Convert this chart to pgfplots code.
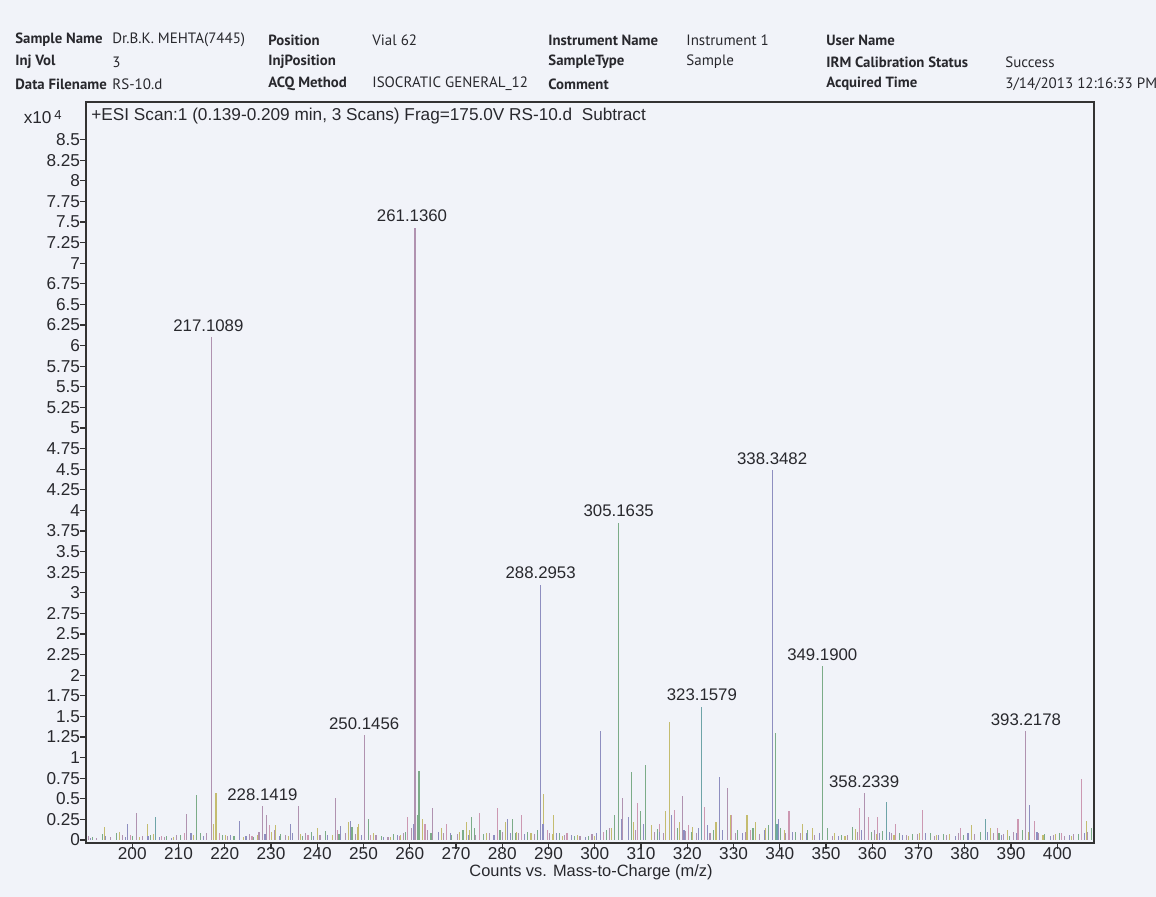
\documentclass[border=0pt]{standalone}
\usepackage{fontspec}
\setmainfont{Liberation Sans}
\newfontfamily\hdr{PT Sans}
\usepackage{pgfplots}
\pgfplotsset{compat=1.18}
\definecolor{bg}{RGB}{241,243,249}
\definecolor{cmauve}{RGB}{176,146,176}
\definecolor{cgreen}{RGB}{124,172,136}
\definecolor{cblue}{RGB}{142,142,192}
\definecolor{colive}{RGB}{196,188,112}
\definecolor{cpink}{RGB}{204,152,178}
\definecolor{cteal}{RGB}{110,164,168}
\definecolor{txt}{RGB}{40,40,45}
\newcommand{\hb}[1]{{\hdr\bfseries\fontsize{7.4}{8}\selectfont #1}}
\newcommand{\hn}[1]{{\hdr\fontsize{7.5}{8}\selectfont #1}}
\begin{document}
\begin{tikzpicture}
\useasboundingbox (0,0) rectangle (578pt,448.5pt);
\fill[bg] (0,0) rectangle (578pt,448.5pt);
\begin{scope}[shift={(0pt,448.5pt)},x=0.5pt,y=-0.5pt,every node/.style={anchor=west,inner sep=0pt,text=txt}]
\node at (15,40) {\hb{Sample Name}};
\node at (112,40) {\hn{Dr.B.K. MEHTA(7445)}};
\node at (268,40) {\hb{Position}};
\node at (372,40) {\hn{Vial 62}};
\node at (548,40) {\hb{Instrument Name}};
\node at (686,40) {\hn{Instrument 1}};
\node at (826,40) {\hb{User Name}};
\node at (15,62) {\hb{Inj Vol}};
\node at (112,62) {\hn{3}};
\node at (268,62) {\hb{InjPosition}};
\node at (548,62) {\hb{SampleType}};
\node at (686,62) {\hn{Sample}};
\node at (826,62) {\hb{IRM Calibration Status}};
\node at (1005,62) {\hn{Success}};
\node at (15,84) {\hb{Data Filename}};
\node at (112,84) {\hn{RS-10.d}};
\node at (268,84) {\hb{ACQ Method}};
\node at (372,84) {\hn{ISOCRATIC GENERAL\_12}};
\node at (548,84) {\hb{Comment}};
\node at (826,84) {\hb{Acquired Time}};
\node at (1005,84) {\hn{3/14/2013 12:16:33 PM}};
\node[anchor=east,font=\fontsize{8.6}{10}\selectfont] at (62,117) {x10\,\raisebox{0.45ex}{\fontsize{6.5}{7}\selectfont 4}};
\node[anchor=center,font=\fontsize{8.2}{9}\selectfont] at (591,872) {Counts vs. Mass-to-Charge (m/z)};
\end{scope}
\begin{axis}[at={(43pt,26.85pt)}, anchor=south west, scale only axis,
  width=504.15pt, height=370.4pt,
  xmin=190, xmax=408, ymin=-0.04, ymax=8.95,
  axis background/.style={fill=bg},
  axis line style={draw=black!80, line width=1pt},
  tick align=outside, major tick length=3pt,
  tick style={draw=black!80, line width=0.6pt},
  xtick pos=left, ytick pos=left,
  xtick={200,210,220,230,240,250,260,270,280,290,300,310,320,330,340,350,360,370,380,390,400},
  ytick={0,0.25,0.5,0.75,1,1.25,1.5,1.75,2,2.25,2.5,2.75,3,3.25,3.5,3.75,4,4.25,4.5,4.75,5,5.25,5.5,5.75,6,6.25,6.5,6.75,7,7.25,7.5,7.75,8,8.25,8.5},
  ticklabel style={font=\fontsize{8.6}{10}\selectfont, text=txt, inner sep=0pt},
  xticklabel style={yshift=1.0pt, /pgf/number format/.cd, assume math mode=true, 1000 sep={}},
  yticklabel style={xshift=0.2pt, /pgf/number format/.cd, fixed, precision=2, assume math mode=true},
  scaled y ticks=false,
  clip=true,
  every axis plot/.append style={ycomb, no markers, line width=0.55pt},
]
% major peaks
\addplot[cmauve] coordinates {(217.1089,6.10) (261.1360,7.43) (250.1456,1.27) (228.1419,0.41) (358.2339,0.57) (393.2178,1.32) (229.1,0.30) (235.9,0.41) (243.9,0.51) (265.0,0.39) (201.0,0.33) (211.8,0.32) (306.0,0.51) (318.9,0.53) (328.7,0.63)};
\addplot[cblue] coordinates {(288.2953,3.10) (338.3482,4.49) (301.2,1.32) (394.0,0.43) (223.2,0.23) (199.0,0.20) (247.2,0.23) (234.2,0.20) (281.2,0.26) (326.9,0.77)};
\addplot[cgreen] coordinates {(305.1635,3.85) (349.1900,2.11) (339.0,1.30) (262.0,0.84) (213.9,0.55) (311.0,0.91) (307.9,0.83) (251.0,0.26) (282.2,0.26) (273.3,0.28)};
\addplot[cteal] coordinates {(323.1579,1.62) (363.1,0.46) (384.5,0.25) (205.0,0.28) (339.4,0.2)};
\addplot[colive] coordinates {(316.1,1.43) (218.1,0.57) (289.0,0.56) (291.0,0.30) (231.0,0.18) (249.0,0.20) (203.3,0.19) (272.2,0.22)};
\addplot[cpink] coordinates {(405.3,0.74) (278.9,0.39) (284.2,0.30) (275.0,0.33) (259.5,0.28) (263.3,0.20) (268.0,0.20) (309.2,0.45) (317.3,0.36) (323.8,0.40) (329.5,0.30) (342.0,0.35) (357.3,0.39) (359.2,0.28) (361.2,0.28) (365.0,0.20) (370.9,0.36) (391.5,0.25) (395.0,0.23) (379.0,0.15) (387.0,0.15) (401.0,0.08) (229.6,0.18) (244.3,0.12) (211.2,0.08) (218.8,0.08) (199.6,0.06) (206.3,0.05) (225.9,0.05) (238.0,0.06) (251.6,0.06) (257.8,0.05) (289.7,0.12) (294.0,0.08) (301.9,0.10) (314.0,0.20) (320.2,0.18) (333.6,0.12)};
% smaller peaks and baseline
\addplot[cmauve] coordinates {(190.6,0.05) (192.3,0.03) (195.2,0.04) (197.8,0.06) (202.2,0.05) (206.9,0.04) (209.6,0.06) (216.0,0.08) (220.6,0.05) (225.3,0.07) (227.4,0.10) (230.8,0.12) (233.1,0.06) (237.4,0.08) (240.6,0.06) (246.2,0.09) (248.3,0.07) (252.7,0.06) (255.3,0.04) (258.6,0.08) (260.3,0.15) (263.9,0.12) (267.2,0.09) (270.3,0.07) (274.1,0.06) (277.2,0.08) (280.1,0.10) (283.6,0.09) (286.9,0.07) (290.2,0.08) (293.5,0.06) (296.8,0.05) (299.4,0.07) (303.1,0.15) (308.8,0.12) (312.9,0.10) (314.8,0.09) (319.7,0.11) (321.9,0.08) (324.9,0.09) (330.4,0.08) (332.6,0.10) (335.6,0.07) (341.3,0.09) (344.4,0.08) (347.6,0.06) (351.4,0.05) (354.6,0.06) (356.8,0.10) (360.5,0.12) (364.2,0.08) (367.3,0.06) (369.8,0.07) (373.4,0.05) (376.1,0.06) (378.6,0.08) (382.0,0.07) (386.2,0.09) (388.4,0.07) (390.6,0.10) (396.0,0.09) (399.2,0.06) (401.6,0.05) (403.5,0.07) (406.6,0.10)};
\addplot[cgreen] coordinates {(191.4,0.04) (193.6,0.07) (196.5,0.08) (200.1,0.05) (204.0,0.06) (207.5,0.05) (210.5,0.06) (214.7,0.09) (219.5,0.06) (222.0,0.05) (226.2,0.04) (232.0,0.07) (236.8,0.05) (238.8,0.10) (241.8,0.11) (244.7,0.07) (247.5,0.16) (253.8,0.05) (256.5,0.07) (259.1,0.10) (261.6,0.30) (264.6,0.09) (269.1,0.06) (271.5,0.12) (273.9,0.14) (276.0,0.07) (279.5,0.12) (282.8,0.08) (285.4,0.10) (287.6,0.12) (292.3,0.08) (295.7,0.05) (298.6,0.05) (302.6,0.12) (304.3,0.30) (309.9,0.35) (313.5,0.13) (317.9,0.14) (320.9,0.10) (325.7,0.12) (330.9,0.12) (334.2,0.14) (337.6,0.18) (340.2,0.15) (343.3,0.10) (346.0,0.12) (350.4,0.14) (353.3,0.06) (355.7,0.16) (359.8,0.10) (362.2,0.11) (365.8,0.09) (368.7,0.07) (372.6,0.08) (375.3,0.07) (379.8,0.06) (383.3,0.10) (387.4,0.08) (389.7,0.05) (392.5,0.12) (397.2,0.07) (400.4,0.08) (404.6,0.07) (407.4,0.15)};
\addplot[cblue] coordinates {(190.9,0.03) (194.3,0.05) (198.5,0.04) (203.4,0.05) (205.9,0.04) (208.4,0.03) (212.7,0.08) (215.5,0.05) (221.3,0.06) (224.6,0.05) (228.7,0.07) (231.9,0.05) (234.6,0.08) (239.1,0.05) (242.3,0.06) (245.0,0.17) (249.6,0.06) (254.4,0.04) (257.3,0.06) (260.8,0.20) (266.3,0.10) (268.8,0.08) (272.8,0.06) (278.2,0.06) (281.8,0.09) (284.9,0.07) (288.8,0.20) (291.8,0.09) (294.9,0.06) (297.9,0.04) (300.4,0.08) (305.7,0.25) (307.3,0.28) (310.5,0.20) (313.9,0.10) (316.6,0.30) (319.3,0.12) (322.4,0.14) (324.3,0.18) (327.6,0.12) (331.9,0.08) (336.6,0.12) (339.7,0.25) (342.7,0.10) (345.7,0.09) (348.6,0.08) (352.7,0.05) (357.7,0.12) (361.6,0.09) (363.8,0.10) (366.5,0.06) (371.5,0.08) (374.3,0.06) (377.9,0.05) (380.7,0.08) (384.9,0.10) (388.0,0.06) (391.1,0.09) (395.6,0.10) (398.6,0.05) (402.6,0.06) (405.8,0.09)};
\addplot[colive] coordinates {(194.0,0.16) (197.2,0.10) (201.6,0.04) (204.5,0.07) (209.0,0.04) (213.3,0.06) (217.6,0.20) (220.1,0.06) (224.0,0.04) (227.0,0.06) (230.2,0.10) (233.7,0.05) (236.3,0.07) (240.0,0.14) (243.2,0.06) (246.7,0.22) (248.8,0.16) (252.2,0.08) (255.9,0.04) (258.0,0.06) (262.7,0.25) (266.9,0.14) (270.8,0.10) (273.0,0.12) (276.6,0.09) (280.6,0.22) (283.1,0.10) (286.2,0.08) (290.9,0.07) (293.0,0.05) (296.3,0.06) (299.9,0.05) (303.6,0.14) (308.3,0.22) (312.2,0.18) (315.2,0.35) (318.4,0.22) (321.2,0.16) (326.2,0.22) (329.3,0.30) (332.9,0.30) (334.8,0.22) (337.0,0.14) (341.0,0.12) (344.9,0.20) (347.0,0.15) (351.9,0.08) (354.1,0.05) (356.4,0.13) (360.9,0.07) (364.7,0.06) (367.9,0.05) (370.3,0.08) (373.9,0.06) (376.7,0.07) (381.4,0.18) (385.6,0.14) (389.2,0.12) (393.8,0.10) (396.9,0.06) (399.7,0.07) (403.0,0.05) (406.3,0.23)};
% labels
\begin{scope}[every node/.style={anchor=south, inner sep=0pt, yshift=2.6pt, font=\fontsize{8.4}{10}\selectfont, text=txt}]
\node[xshift=-1.5pt] at (axis cs:217.1089,6.10) {217.1089};
\node[xshift=-1.5pt] at (axis cs:261.1360,7.43) {261.1360};
\node at (axis cs:250.1456,1.27) {250.1456};
\node at (axis cs:228.1419,0.41) {228.1419};
\node at (axis cs:288.2953,3.10) {288.2953};
\node at (axis cs:305.1635,3.85) {305.1635};
\node at (axis cs:323.1579,1.62) {323.1579};
\node at (axis cs:338.3482,4.49) {338.3482};
\node at (axis cs:349.1900,2.11) {349.1900};
\node at (axis cs:358.2339,0.57) {358.2339};
\node at (axis cs:393.2178,1.32) {393.2178};
\end{scope}
\node[anchor=north west, inner sep=0pt, font=\fontsize{8.6}{10}\selectfont, text=txt] at ([xshift=2.5pt,yshift=-2.5pt]rel axis cs:0,1) {+ESI Scan:1 (0.139-0.209 min, 3 Scans) Frag=175.0V RS-10.d\ \ Subtract};
\end{axis}
\end{tikzpicture}
\end{document}
